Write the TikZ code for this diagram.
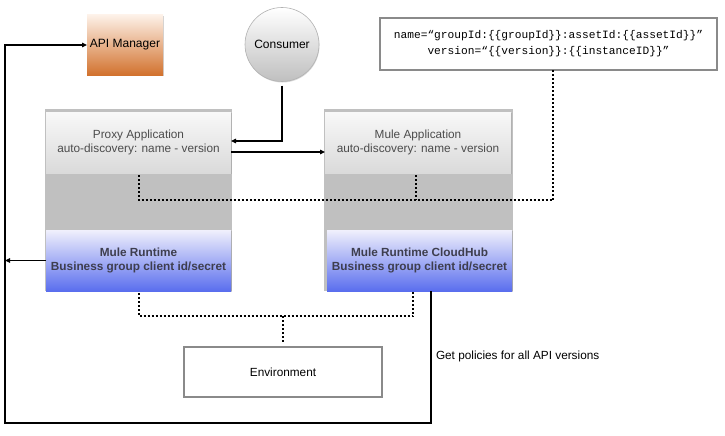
\documentclass[tikz,border=0pt]{standalone}
\usepackage{fontspec}
\setmainfont{Liberation Sans}
\setmonofont{Liberation Mono}
\usetikzlibrary{shadows,arrows.meta}
\definecolor{contgray}{HTML}{C0C0C0}
\definecolor{appTop}{HTML}{F8F8F8}
\definecolor{appBot}{HTML}{DADADA}
\definecolor{rtTop}{HTML}{F0F0FC}
\definecolor{rtBot}{HTML}{5A6EEE}
\definecolor{apiTop}{HTML}{FDF1E8}
\definecolor{apiBot}{HTML}{D2722E}
\definecolor{boxborder}{HTML}{8A8A8A}
\definecolor{apptext}{HTML}{4C4C4C}
\definecolor{rttext}{HTML}{3E3E4E}
\tikzset{
  base/.style={inner sep=0pt, outer sep=0pt, align=center, font=\fontsize{11.8}{14}\selectfont},
  container/.style={base, fill=contgray, minimum height=182pt},
  appbox/.style={base, top color=appTop, bottom color=appBot, minimum height=61pt, text=apptext,
     drop shadow={shadow xshift=0.6pt, shadow yshift=-1.2pt, opacity=0.35}},
  rtbox/.style={base, top color=rtTop, bottom color=rtBot, minimum height=61pt, text=rttext,
     font=\fontsize{11.8}{14}\selectfont\bfseries,
     drop shadow={shadow xshift=0.6pt, shadow yshift=-1.2pt, opacity=0.35}},
  apibox/.style={base, top color=apiTop, bottom color=apiBot, minimum width=76pt, minimum height=60pt,
     font=\fontsize{12}{14}\selectfont,
     drop shadow={shadow xshift=0.6pt, shadow yshift=-1.2pt, opacity=0.35}},
  consumer/.style={base, circle, draw=black!30, line width=0.6pt, top color=white, bottom color=black!25,
     minimum size=74pt, font=\fontsize{12}{14}\selectfont,
     drop shadow={shadow xshift=0.5pt, shadow yshift=-1pt, opacity=0.3}},
  plainbox/.style={base, draw=boxborder, line width=2pt, fill=white},
  arr/.style={draw=black, line width=1.1pt, -{Triangle[length=5pt,width=4.5pt]}},
  conn/.style={draw=black, line width=1.1pt},
  dots/.style={draw=black, line width=2pt, dash pattern=on 2pt off 2pt},
}
\begin{document}
\begin{tikzpicture}[x=1pt,y=-1pt]
\useasboundingbox[fill=white] (0,0) rectangle (725,436);

% containers
\node[container, minimum width=187pt] (c1) at (138.5,200) {};
\node[container, minimum width=189pt] (c2) at (418,200) {};

% application boxes
\node[appbox, minimum width=185pt] (proxy) at (138.5,142.5) {Proxy Application\\auto-discovery: name - version};
\node[appbox, minimum width=186pt] (mapp) at (418,142.5) {Mule Application\\auto-discovery: name - version};

% runtime boxes
\node[rtbox, minimum width=185pt] (rt1) at (138.5,260.5) {Mule Runtime\\Business group client id/secret};
\node[rtbox, minimum width=185pt] (rt2) at (419.5,260.5) {Mule Runtime CloudHub\\Business group client id/secret};

% top nodes
\node[apibox] (api) at (125,45) {API Manager};
\node[consumer] (cons) at (282,44.5) {Consumer};
\node[plainbox, minimum width=337pt, minimum height=52pt, font=\fontsize{11.2}{16}\ttfamily] (cfg) at (548.5,44)
  {name=“groupId:\{\{groupId\}\}:assetId:\{\{assetId\}\}”\\version=“\{\{version\}\}:\{\{instanceID\}\}”};

% environment
\node[plainbox, minimum width=198pt, minimum height=50pt] (env) at (283,372) {Environment};

% label
\node[base, anchor=west] (lbl) at (436,356) {Get policies for all API versions};

% coordinates
\coordinate (leftend) at (5,262);
\coordinate (loopA) at (431,423);
\coordinate (loopB) at (5,423);
\coordinate (cfgjoin) at (553,200);
\coordinate (envjoin) at (283,316);

% solid connectors
\draw[arr, shorten <=4pt] (cons.south) |- ([yshift=1.5pt]proxy.east);
\draw[arr] ([yshift=-9.5pt]proxy.east) -- ([yshift=-9.5pt]mapp.west);
\draw[arr] (rt1.west) -- (rt1.west -| leftend);
\draw[arr] ([xshift=11.5pt]rt2.south) -- (loopA) -- (loopB) |- (api.west);

% dotted connectors
\draw[dots, shorten <=2pt] (proxy.south) |- (cfgjoin) -- (cfg.south -| cfgjoin);
\draw[dots, shorten <=2pt] ([xshift=-2pt]mapp.south) -- ([xshift=-2pt]mapp.south |- cfgjoin);
\draw[dots, shorten <=2pt] (rt1.south) |- (envjoin) -| ([xshift=-6.5pt]rt2.south);
\draw[dots, shorten >=5pt] (envjoin) -- (env.north);
\end{tikzpicture}
\end{document}
